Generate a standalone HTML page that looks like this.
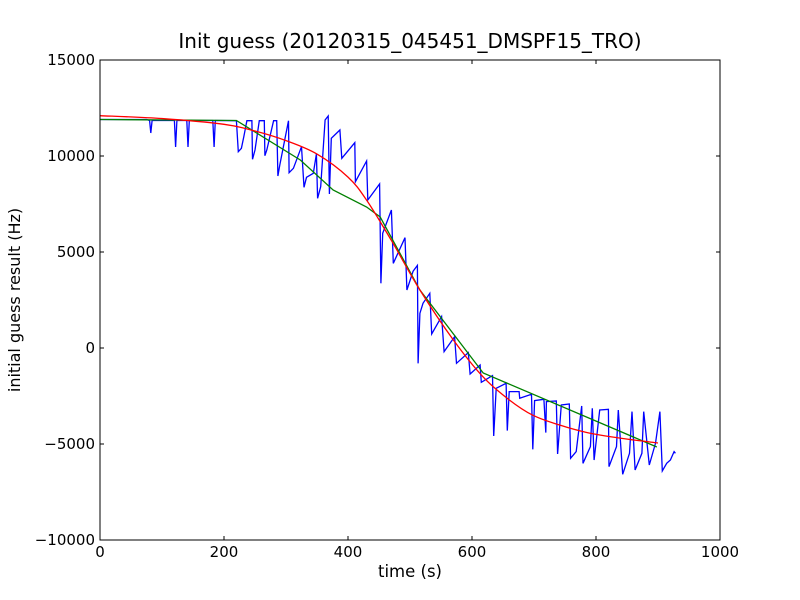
<!DOCTYPE html>
<html><head><meta charset="utf-8"><style>
body{margin:0;background:#fff}
svg{display:block;font-family:"DejaVu Sans","Liberation Sans",sans-serif}
</style></head><body>
<svg id="chart" width="800" height="600">
<rect x="0" y="0" width="800" height="600" fill="#fff"/>
<text x="410" y="48" text-anchor="middle" font-size="20">Init guess (20120315_045451_DMSPF15_TRO)</text>
<text x="410" y="577" text-anchor="middle" font-size="16.5">time (s)</text>
<text transform="translate(20,300) rotate(-90)" text-anchor="middle" font-size="16">initial guess result (Hz)</text>
<g id="plot"></g>
<rect x="100" y="60" width="620" height="480" fill="none" stroke="#000" stroke-width="1"/>
</svg>
<script>
const xTicks=[0,200,400,600,800,1000];
const yTicks=[-10000,-5000,0,5000,10000,15000];
const blueT=[0,75,80,82,84,120,122,124,140,142,144,182,184,186,220,223,228,232,237,245,246,250,257,265,266,269,280,285,287,290,304,305,312,325,329,333,344,349,351,356,363,368,370,373,387,390,411,412,430,432,451,453,456,470,473,492,495,505,512,513,516,521,532,535,551,555,572,575,594,597,613,615,633,635,639,655,657,660,676,677,696,698,701,716,719,720,736,738,744,757,759,768,777,779,791,794,797,806,820,821,833,836,843,854,858,863,874,877,886,896,903,907,914,920,926,928];
const blueV=[11900,11900,11850,11198,11850,11850,10468,11850,11850,10468,11850,11850,10468,11850,11840,10226,10400,11007,11840,11840,9827,10313,11840,11840,10018,10313,11840,11840,8959,9531,11840,9132,9358,10486,8368,8889,9097,10104,7795,8403,11875,12083,8021,10920,11354,9879,10695,8663,9740,7708,8542,3369,5973,7187,4410,5747,3021,4000,4300,-800,1806,2327,2848,730,1633,-190,591,-798,-242,-1353,-885,-1787,-1440,-4582,-2100,-1839,-4304,-2273,-2273,-2621,-2412,-5277,-2742,-2673,-4408,-2794,-2759,-5520,-2968,-2916,-5746,-5398,-3020,-6006,-5138,-3141,-5832,-3228,-3193,-6179,-5138,-3228,-6579,-5485,-3315,-6353,-5485,-3315,-6093,-4964,-3315,-6405,-6006,-5832,-5398,-5485];
const greenT=[0,220,323,376,430,452,516,618,898];
const greenV=[11900,11850,9792,8229,7344,6823,3021,-1302,-5156];
const redT=[0,100,200,250,300,350,400,430,470,516,570,618,660,698,740,785,840,900];
const redV=[12100,11950,11650,11300,10800,10100,8900,7700,5600,3021,416,-1510,-2700,-3500,-4000,-4400,-4700,-4948];
const X=t=>100+t/1000*620;
const Y=v=>540-(v+10000)/25000*480;
const NS='http://www.w3.org/2000/svg';
const g=document.getElementById('plot');
function line(ts,vs,color,name){
  const p=document.createElementNS(NS,'polyline');
  p.setAttribute('points',ts.map((t,i)=>X(t).toFixed(1)+','+Y(vs[i]).toFixed(1)).join(' '));
  p.setAttribute('fill','none');p.setAttribute('stroke',color);p.setAttribute('stroke-width','1.3');
  
  
  g.appendChild(p);
}
function smooth(ts,vs,color,name){
  const P=ts.map((t,i)=>[X(t),Y(vs[i])]);
  let d='M'+P[0][0]+','+P[0][1];
  for(let i=0;i<P.length-1;i++){
    const p0=P[Math.max(i-1,0)],p1=P[i],p2=P[i+1],p3=P[Math.min(i+2,P.length-1)];
    const c1=[p1[0]+(p2[0]-p0[0])/6,p1[1]+(p2[1]-p0[1])/6];
    const c2=[p2[0]-(p3[0]-p1[0])/6,p2[1]-(p3[1]-p1[1])/6];
    d+=`C${c1[0]},${c1[1]} ${c2[0]},${c2[1]} ${p2[0]},${p2[1]}`;
  }
  const p=document.createElementNS(NS,'path');
  p.setAttribute('d',d);p.setAttribute('fill','none');p.setAttribute('stroke',color);p.setAttribute('stroke-width','1.3');
  
  
  g.appendChild(p);
}
line(blueT,blueV,'#0000ff','blue-series');
line(greenT,greenV,'#008000','green-series');
smooth(redT,redV,'#ff0000','red-series');
function mk(tag,attrs){const e=document.createElementNS(NS,tag);for(const k in attrs)e.setAttribute(k,attrs[k]);g.appendChild(e);return e;}
xTicks.forEach(t=>{
  const x=X(t);
  const a=mk('path',{d:`M${x},540v-4M${x},60v4`,stroke:'#000'});
  
  
  const l=mk('text',{x:x,y:557,'text-anchor':'middle','font-size':'15'});l.textContent=t;
  
  
});
yTicks.forEach(v=>{
  const y=Y(v);
  const a=mk('path',{d:`M100,${y}h4M720,${y}h-4`,stroke:'#000'});
  
  
  const l=mk('text',{x:95,y:y+5,'text-anchor':'end','font-size':'15'});l.textContent=v<0?'\u2212'+(-v):v;
  
  
});
</script>
</body></html>
